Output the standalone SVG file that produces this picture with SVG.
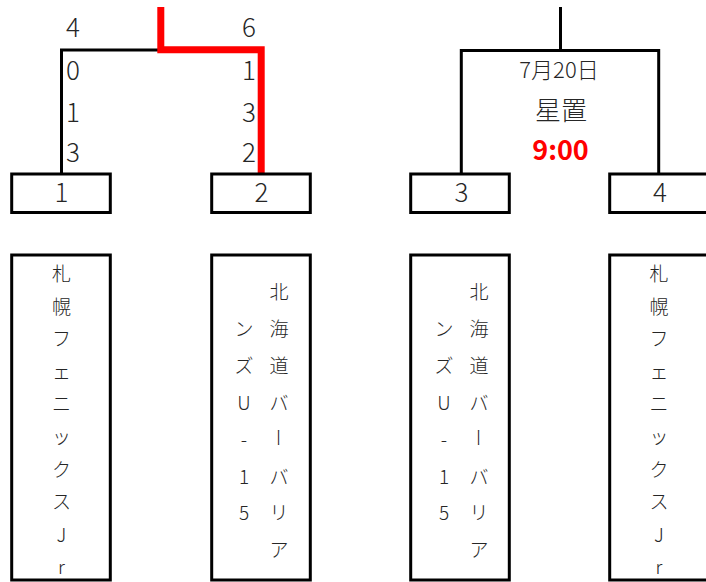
<svg xmlns="http://www.w3.org/2000/svg" width="706" height="582" viewBox="0 0 706 582">
<style>
  .box { fill: #fff; stroke: #000; stroke-width: 3; }
  .line { fill: none; stroke: #000; stroke-width: 3; }
  .win { fill: none; stroke: #ff0000; stroke-width: 7; }
  text { font-family: "Noto Sans CJK JP", "Noto Sans", sans-serif; fill: #262626; font-weight: 300; }
  .num { font-size: 26px; }
  .mid { text-anchor: middle; }
  .end { text-anchor: end; }
  .v { font-size: 19px; text-anchor: middle; dominant-baseline: central; }
  .date { font-size: 22px; text-anchor: middle; }
  .place { font-size: 26px; text-anchor: middle; }
  .time { font-size: 27px; font-weight: bold; text-anchor: middle; fill: #ff0000; }
</style>
<rect width="706" height="582" fill="#fff"/>

<g id="connectors">
  <polyline class="line" points="61.5,174 61.5,50 160,50"/>
  <polyline class="line" points="461.3,174 461.3,50.5 658.7,50.5 658.7,174"/>
  <line class="line" x1="560.5" y1="7" x2="560.5" y2="50.5"/>
  <polyline class="win" points="160.8,7 160.8,49.7 261.2,49.7 261.2,174"/>
</g>

<g id="scores-left">
  <text class="num" x="66" y="37">4</text>
  <text class="num" x="66" y="80">0</text>
  <text class="num" x="66" y="121.5">1</text>
  <text class="num" x="66" y="162">3</text>
  <text class="num end" x="256" y="37">6</text>
  <text class="num end" x="256" y="80">1</text>
  <text class="num end" x="256" y="121.5">3</text>
  <text class="num end" x="256" y="162">2</text>
</g>

<g id="match-info">
  <text class="date" x="559" y="78">7月20日</text>
  <text class="place" x="561" y="120">星置</text>
  <text class="time" x="560.5" y="160">9:00</text>
</g>

<g id="seed-1">
  <rect class="box" x="11.7" y="174" width="98.6" height="38.5"/>
  <text class="num mid" x="61.5" y="202">1</text>
</g>
<g id="seed-2">
  <rect class="box" x="211.7" y="174" width="98.6" height="38.5"/>
  <text class="num mid" x="261.5" y="202">2</text>
</g>
<g id="seed-3">
  <rect class="box" x="410.7" y="174" width="98.6" height="38.5"/>
  <text class="num mid" x="461.5" y="202">3</text>
</g>
<g id="seed-4">
  <rect class="box" x="609.7" y="174" width="98.6" height="38.5"/>
  <text class="num mid" x="660" y="202">4</text>
</g>

<g id="team-1">
  <rect class="box" x="11.7" y="255" width="98.6" height="325"/>
  <text class="v" x="61.5"><tspan x="61.5" y="272">札</tspan><tspan x="61.5" y="304.6">幌</tspan><tspan x="61.5" y="337.2">フ</tspan><tspan x="61.5" y="369.8">ェ</tspan><tspan x="61.5" y="402.4">ニ</tspan><tspan x="61.5" y="435">ッ</tspan><tspan x="61.5" y="467.6">ク</tspan><tspan x="61.5" y="500.2">ス</tspan><tspan x="61.5" y="532.8">J</tspan><tspan x="61.5" y="565.4">r</tspan></text>
</g>

<g id="team-2">
  <rect class="box" x="211.7" y="255" width="98.6" height="325"/>
  <text class="v"><tspan x="279" y="290">北</tspan><tspan x="279" y="326.9">海</tspan><tspan x="279" y="363.8">道</tspan><tspan x="279" y="400.7">バ</tspan></text>
  <text class="v" transform="rotate(90 279 437.6)" x="279" y="437.6">ー</text>
  <text class="v"><tspan x="279" y="474.5">バ</tspan><tspan x="279" y="511.4">リ</tspan><tspan x="279" y="548.3">ア</tspan></text>
  <text class="v"><tspan x="244" y="326.9">ン</tspan><tspan x="244" y="363.8">ズ</tspan><tspan x="244" y="400.7">U</tspan><tspan x="244" y="437.6">-</tspan><tspan x="244" y="474.5">1</tspan><tspan x="244" y="511.4">5</tspan></text>
</g>

<g id="team-3">
  <rect class="box" x="410.7" y="255" width="98.6" height="325"/>
  <text class="v"><tspan x="479" y="290">北</tspan><tspan x="479" y="326.9">海</tspan><tspan x="479" y="363.8">道</tspan><tspan x="479" y="400.7">バ</tspan></text>
  <text class="v" transform="rotate(90 479 437.6)" x="479" y="437.6">ー</text>
  <text class="v"><tspan x="479" y="474.5">バ</tspan><tspan x="479" y="511.4">リ</tspan><tspan x="479" y="548.3">ア</tspan></text>
  <text class="v"><tspan x="444" y="326.9">ン</tspan><tspan x="444" y="363.8">ズ</tspan><tspan x="444" y="400.7">U</tspan><tspan x="444" y="437.6">-</tspan><tspan x="444" y="474.5">1</tspan><tspan x="444" y="511.4">5</tspan></text>
</g>

<g id="team-4">
  <rect class="box" x="609.7" y="255" width="98.6" height="325"/>
  <text class="v"><tspan x="659" y="272">札</tspan><tspan x="659" y="304.6">幌</tspan><tspan x="659" y="337.2">フ</tspan><tspan x="659" y="369.8">ェ</tspan><tspan x="659" y="402.4">ニ</tspan><tspan x="659" y="435">ッ</tspan><tspan x="659" y="467.6">ク</tspan><tspan x="659" y="500.2">ス</tspan><tspan x="659" y="532.8">J</tspan><tspan x="659" y="565.4">r</tspan></text>
</g>
</svg>
